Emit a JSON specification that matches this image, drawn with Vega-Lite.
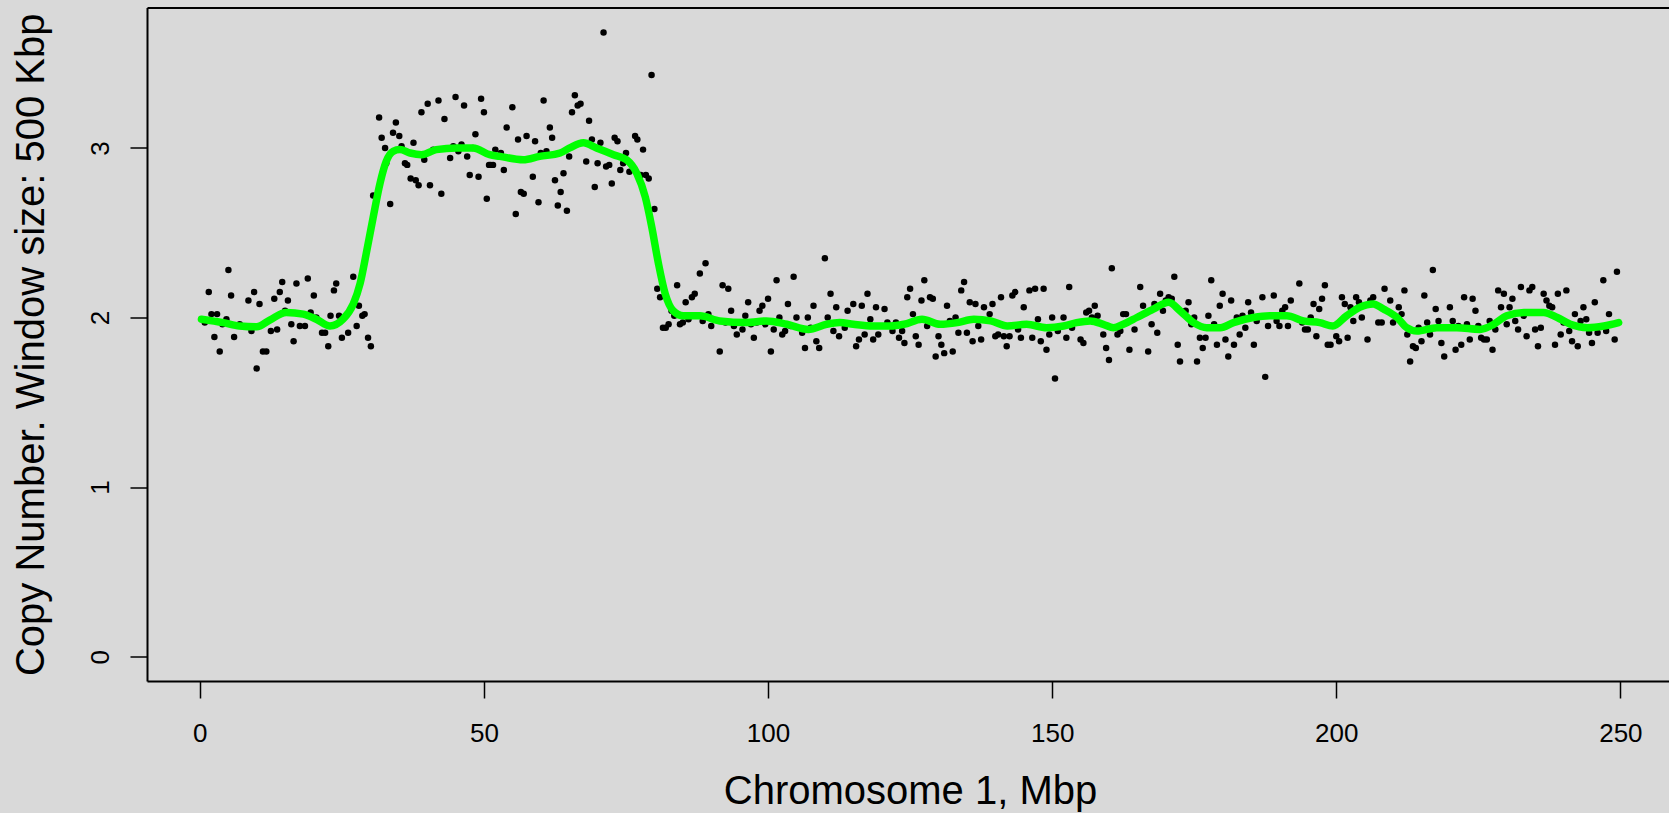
{
"$schema": "https://vega.github.io/schema/vega-lite/v6.json",
"autosize": "none",
"padding": {"left": 147, "top": 7.5, "right": 0, "bottom": 132},
"width": 1522,
"height": 673.5,
"background": "#d9d9d9",
"config": {"view": {"stroke": null}, "font": "Liberation Sans"},
"layer": [
{
"data": {"values": [
{"x":0.87,"y":1.97},{"x":1.57,"y":2.15},{"x":2.04,"y":2.02},{"x":3.03,"y":2.02},{"x":2.56,"y":1.885},{"x":3.5,"y":1.8},{"x":3.97,"y":1.96},{"x":5.03,"y":2.28},{"x":4.68,"y":1.99},{"x":5.5,"y":2.13},
{"x":6.03,"y":1.885},{"x":7.02,"y":1.96},{"x":8.55,"y":2.1},{"x":9.55,"y":2.15},{"x":9.08,"y":1.92},{"x":10.0,"y":1.7},{"x":10.5,"y":2.08},{"x":11.1,"y":1.8},{"x":11.7,"y":1.8},{"x":12.5,"y":1.92},
{"x":13.6,"y":1.93},{"x":13.1,"y":2.11},{"x":14.07,"y":2.15},{"x":14.5,"y":2.21},{"x":15.0,"y":2.04},{"x":15.5,"y":2.1},{"x":16.1,"y":1.96},{"x":16.5,"y":1.86},{"x":17.0,"y":2.2},{"x":17.6,"y":1.95},
{"x":18.5,"y":1.95},{"x":19.0,"y":2.23},{"x":19.5,"y":2.03},{"x":20.06,"y":2.13},{"x":20.5,"y":2.0},{"x":21.5,"y":1.91},{"x":22.05,"y":1.91},{"x":22.6,"y":1.83},{"x":23.0,"y":2.01},{"x":23.6,"y":2.16},
{"x":24.0,"y":2.2},{"x":24.5,"y":2.01},{"x":25.0,"y":1.88},{"x":26.1,"y":1.91},{"x":27.0,"y":2.24},{"x":27.6,"y":1.95},{"x":28.0,"y":2.07},{"x":28.6,"y":2.01},{"x":29.0,"y":2.02},{"x":29.6,"y":1.88},
{"x":30.1,"y":1.83},{"x":30.5,"y":2.72},{"x":31.55,"y":3.18},{"x":32.0,"y":3.06},{"x":32.6,"y":3.0},{"x":32.8,"y":2.91},{"x":33.5,"y":2.67},{"x":34.0,"y":3.09},{"x":34.5,"y":3.15},{"x":35.1,"y":3.07},
{"x":35.5,"y":3.01},{"x":36.1,"y":2.91},{"x":36.5,"y":2.9},{"x":37.1,"y":2.82},{"x":37.6,"y":3.03},{"x":38.0,"y":2.81},{"x":38.5,"y":2.78},{"x":39.0,"y":3.21},{"x":39.5,"y":2.93},{"x":40.1,"y":3.26},
{"x":40.5,"y":2.78},{"x":41.06,"y":2.99},{"x":42.0,"y":3.28},{"x":42.5,"y":2.73},{"x":43.05,"y":3.17},{"x":44.05,"y":2.94},{"x":44.6,"y":3.01},{"x":45.0,"y":3.3},{"x":45.5,"y":2.98},{"x":46.05,"y":3.02},
{"x":46.5,"y":3.25},{"x":47.05,"y":2.95},{"x":47.5,"y":2.84},{"x":48.05,"y":3.0},{"x":48.5,"y":3.08},{"x":49.05,"y":2.83},{"x":49.5,"y":3.29},{"x":50.0,"y":3.21},{"x":50.5,"y":2.7},{"x":50.9,"y":2.9},
{"x":51.2,"y":2.9},{"x":51.6,"y":2.9},{"x":52.0,"y":2.99},{"x":52.98,"y":2.97},{"x":53.5,"y":2.87},{"x":54.0,"y":3.12},{"x":55.0,"y":3.24},{"x":55.6,"y":2.61},{"x":56.0,"y":3.05},{"x":56.5,"y":2.74},
{"x":57.0,"y":2.73},{"x":57.5,"y":3.07},{"x":58.6,"y":2.83},{"x":59.0,"y":3.04},{"x":59.6,"y":2.68},{"x":60.0,"y":2.97},{"x":60.5,"y":3.28},{"x":61.0,"y":2.98},{"x":61.6,"y":3.12},{"x":62.0,"y":3.06},
{"x":62.5,"y":2.81},{"x":63.0,"y":2.66},{"x":63.5,"y":2.74},{"x":64.0,"y":2.85},{"x":64.6,"y":2.63},{"x":65.0,"y":2.95},{"x":65.5,"y":3.21},{"x":66.0,"y":3.31},{"x":66.5,"y":3.25},{"x":67.0,"y":3.26},
{"x":68.0,"y":2.92},{"x":68.5,"y":3.16},{"x":69.0,"y":3.05},{"x":69.5,"y":2.77},{"x":70.0,"y":2.91},{"x":70.5,"y":3.03},{"x":71.05,"y":3.68},{"x":71.5,"y":2.89},{"x":72.05,"y":2.9},{"x":72.5,"y":2.79},
{"x":73.0,"y":3.06},{"x":73.5,"y":3.04},{"x":74.0,"y":2.87},{"x":74.5,"y":2.91},{"x":75.0,"y":2.97},{"x":75.6,"y":2.86},{"x":76.6,"y":3.07},{"x":77.0,"y":3.05},{"x":77.6,"y":2.84},{"x":78.0,"y":2.99},
{"x":78.5,"y":2.84},{"x":79.0,"y":2.82},{"x":79.5,"y":3.43},{"x":80.0,"y":2.64},{"x":80.5,"y":2.17},{"x":81.0,"y":2.12},{"x":81.5,"y":1.94},{"x":82.0,"y":1.94},{"x":82.5,"y":1.96},{"x":83.0,"y":2.04},
{"x":83.5,"y":2.01},{"x":84.0,"y":2.19},{"x":84.5,"y":1.96},{"x":85.0,"y":1.97},{"x":85.5,"y":2.09},{"x":86.0,"y":1.99},{"x":86.6,"y":2.12},{"x":87.1,"y":2.14},{"x":88.0,"y":2.26},{"x":88.5,"y":1.98},
{"x":89.0,"y":2.32},{"x":89.5,"y":2.02},{"x":90.0,"y":1.95},{"x":91.5,"y":1.8},{"x":92.0,"y":2.19},{"x":92.5,"y":1.97},{"x":93.0,"y":2.17},{"x":93.5,"y":2.04},{"x":94.0,"y":1.95},{"x":94.5,"y":1.9},
{"x":95.5,"y":1.93},{"x":96.0,"y":2.01},{"x":96.5,"y":2.09},{"x":97.0,"y":1.96},{"x":97.5,"y":1.88},{"x":98.0,"y":1.97},{"x":98.5,"y":2.04},{"x":99.0,"y":2.07},{"x":99.5,"y":1.96},{"x":100.0,"y":2.11},
{"x":100.5,"y":1.8},{"x":101.0,"y":1.93},{"x":101.5,"y":2.22},{"x":102.0,"y":2.0},{"x":102.5,"y":1.9},{"x":103.0,"y":1.92},{"x":103.5,"y":2.08},{"x":104.0,"y":1.95},{"x":104.5,"y":2.24},{"x":105.0,"y":2.0},
{"x":106.0,"y":1.91},{"x":106.5,"y":1.82},{"x":107.0,"y":2.0},{"x":107.5,"y":1.94},{"x":108.0,"y":2.07},{"x":108.5,"y":1.86},{"x":109.0,"y":1.82},{"x":110.0,"y":2.35},{"x":110.5,"y":2.0},{"x":111.0,"y":2.14},
{"x":111.5,"y":1.92},{"x":112.0,"y":2.06},{"x":112.5,"y":1.89},{"x":113.5,"y":1.94},{"x":114.0,"y":2.04},{"x":115.0,"y":2.08},{"x":115.5,"y":1.83},{"x":116.0,"y":1.87},{"x":116.5,"y":2.07},{"x":117.0,"y":1.9},
{"x":117.5,"y":2.14},{"x":118.0,"y":1.99},{"x":118.5,"y":1.87},{"x":119.0,"y":2.06},{"x":119.4,"y":1.9},
{"x":120.5,"y":2.05},{"x":121.0,"y":1.97},{"x":121.9,"y":1.92},{"x":122.5,"y":1.97},{"x":123.05,"y":1.88},{"x":123.6,"y":1.92},{"x":124.0,"y":1.85},{"x":124.5,"y":2.12},{"x":125.0,"y":2.17},{"x":125.5,"y":2.02},
{"x":126.0,"y":1.89},{"x":126.5,"y":1.84},{"x":127.0,"y":2.1},{"x":127.5,"y":2.22},{"x":128.0,"y":1.95},{"x":128.5,"y":2.12},{"x":129.0,"y":2.11},{"x":129.5,"y":1.77},{"x":130.0,"y":1.89},{"x":130.5,"y":1.84},
{"x":131.0,"y":1.79},{"x":131.5,"y":2.07},{"x":132.0,"y":1.98},{"x":132.5,"y":1.8},{"x":133.0,"y":2.0},{"x":133.5,"y":1.91},{"x":134.0,"y":2.16},{"x":134.5,"y":2.21},{"x":135.0,"y":1.91},{"x":135.5,"y":2.09},
{"x":136.0,"y":1.86},{"x":136.5,"y":2.08},{"x":137.0,"y":1.95},{"x":137.5,"y":1.87},{"x":138.0,"y":2.06},{"x":139.0,"y":2.02},{"x":139.5,"y":2.08},{"x":140.0,"y":1.89},{"x":140.5,"y":1.9},{"x":141.0,"y":2.12},
{"x":141.5,"y":1.89},{"x":142.0,"y":1.83},{"x":142.5,"y":1.89},{"x":143.0,"y":2.13},{"x":143.5,"y":2.15},{"x":144.0,"y":1.93},{"x":144.5,"y":1.88},{"x":145.0,"y":2.06},{"x":146.0,"y":2.16},{"x":146.5,"y":1.88},
{"x":147.0,"y":2.17},{"x":147.5,"y":1.99},{"x":148.0,"y":1.86},{"x":148.5,"y":2.17},{"x":149.0,"y":1.81},{"x":149.5,"y":1.9},{"x":150.0,"y":2.0},{"x":150.5,"y":1.64},{"x":151.0,"y":1.92},{"x":152.0,"y":2.0},
{"x":152.5,"y":1.88},{"x":153.0,"y":2.18},{"x":153.5,"y":1.94},{"x":155.0,"y":1.87},{"x":155.5,"y":1.85},{"x":156.0,"y":2.03},{"x":156.5,"y":2.04},{"x":157.0,"y":2.0},{"x":157.5,"y":2.07},{"x":158.0,"y":2.01},
{"x":159.0,"y":1.9},{"x":159.5,"y":1.82},{"x":160.0,"y":1.75},{"x":160.5,"y":2.29},{"x":161.5,"y":1.9},{"x":162.0,"y":1.92},{"x":162.5,"y":2.02},{"x":163.0,"y":2.02},{"x":163.6,"y":1.81},
{"x":164.5,"y":1.93},{"x":165.5,"y":2.18},{"x":166.0,"y":2.07},{"x":166.9,"y":1.8},{"x":167.5,"y":1.96},{"x":168.0,"y":2.08},{"x":168.5,"y":1.91},{"x":169.0,"y":2.14},{"x":169.5,"y":2.04},{"x":170.0,"y":2.1},
{"x":170.5,"y":2.12},{"x":171.05,"y":2.11},{"x":171.5,"y":2.24},{"x":172.1,"y":1.84},{"x":172.5,"y":1.74},{"x":173.5,"y":2.04},{"x":174.0,"y":2.09},{"x":174.5,"y":1.96},{"x":175.0,"y":2.0},{"x":175.5,"y":1.74},
{"x":176.0,"y":1.88},{"x":176.5,"y":1.82},{"x":177.0,"y":1.88},{"x":177.5,"y":2.01},{"x":178.0,"y":2.22},{"x":178.5,"y":1.96},{"x":179.0,"y":1.84},{"x":179.5,"y":2.07},{"x":180.0,"y":2.14},{"x":180.5,"y":1.87},
{"x":181.0,"y":1.77},{"x":181.5,"y":2.1},{"x":182.0,"y":1.84},{"x":182.5,"y":2.0},{"x":183.0,"y":1.9},{"x":183.5,"y":2.01},{"x":184.0,"y":1.94},{"x":184.5,"y":2.09},{"x":185.0,"y":2.03},{"x":185.5,"y":1.84},
{"x":186.0,"y":1.98},{"x":187.0,"y":2.12},{"x":187.5,"y":1.65},{"x":188.0,"y":1.95},{"x":189.0,"y":2.13},{"x":189.5,"y":1.98},{"x":190.0,"y":1.95},{"x":190.5,"y":2.04},{"x":191.0,"y":2.06},{"x":191.5,"y":1.95},
{"x":192.0,"y":2.1},{"x":193.5,"y":2.2},{"x":194.0,"y":1.97},{"x":194.5,"y":1.93},{"x":195.0,"y":1.93},{"x":195.5,"y":2.0},{"x":196.0,"y":2.08},{"x":196.5,"y":1.89},{"x":197.0,"y":2.05},{"x":197.5,"y":2.11},
{"x":198.0,"y":2.19},{"x":198.5,"y":1.84},{"x":199.0,"y":1.84},{"x":200.0,"y":1.89},{"x":200.5,"y":1.86},{"x":201.0,"y":2.12},{"x":201.5,"y":2.08},{"x":202.0,"y":1.88},{"x":202.5,"y":2.06},{"x":203.0,"y":1.98},
{"x":203.5,"y":2.12},{"x":204.0,"y":2.09},{"x":204.5,"y":2.0},{"x":205.5,"y":1.87},{"x":206.0,"y":2.1},{"x":206.5,"y":2.12},{"x":207.4,"y":1.97},
{"x":208.0,"y":1.97},{"x":208.5,"y":2.17},{"x":209.5,"y":2.1},{"x":210.0,"y":1.97},{"x":211.0,"y":2.06},{"x":211.5,"y":2.02},{"x":212.0,"y":2.16},{"x":212.5,"y":1.9},{"x":213.0,"y":1.74},{"x":213.5,"y":1.83},
{"x":214.0,"y":1.82},{"x":214.5,"y":1.94},{"x":215.0,"y":1.86},{"x":215.5,"y":2.13},{"x":216.0,"y":1.97},{"x":216.5,"y":1.9},{"x":217.0,"y":2.28},{"x":217.5,"y":2.05},{"x":218.0,"y":1.98},{"x":218.5,"y":1.85},
{"x":219.0,"y":1.77},{"x":219.5,"y":1.94},{"x":220.0,"y":2.06},{"x":220.5,"y":1.98},{"x":221.0,"y":1.81},{"x":221.5,"y":1.95},{"x":222.0,"y":1.84},{"x":222.5,"y":2.12},{"x":223.0,"y":1.96},{"x":223.5,"y":1.87},
{"x":224.0,"y":2.11},{"x":224.5,"y":2.04},{"x":225.0,"y":1.95},{"x":225.5,"y":1.88},{"x":226.0,"y":1.87},{"x":226.5,"y":1.87},{"x":227.0,"y":1.98},{"x":227.5,"y":1.81},{"x":228.0,"y":1.93},{"x":228.5,"y":2.16},
{"x":229.0,"y":2.06},{"x":229.5,"y":2.14},{"x":230.0,"y":1.96},{"x":230.5,"y":2.06},{"x":231.0,"y":2.11},{"x":231.5,"y":1.98},{"x":232.0,"y":1.93},{"x":232.5,"y":2.18},{"x":233.0,"y":2.01},{"x":233.5,"y":1.89},
{"x":234.0,"y":2.16},{"x":234.5,"y":2.18},{"x":235.0,"y":1.93},{"x":235.5,"y":1.83},{"x":236.0,"y":1.94},{"x":236.5,"y":2.14},{"x":237.0,"y":2.1},{"x":237.5,"y":2.07},{"x":238.0,"y":2.06},{"x":238.5,"y":1.84},
{"x":239.0,"y":2.14},{"x":239.5,"y":1.9},{"x":240.0,"y":1.97},{"x":240.5,"y":2.16},{"x":241.0,"y":1.92},{"x":241.5,"y":1.86},{"x":242.0,"y":2.02},{"x":242.5,"y":1.83},{"x":243.0,"y":1.98},{"x":243.5,"y":2.06},
{"x":244.0,"y":1.99},{"x":244.5,"y":1.91},{"x":245.0,"y":1.85},{"x":245.5,"y":2.09},{"x":246.0,"y":1.91},{"x":247.0,"y":2.22},{"x":247.5,"y":1.92},{"x":248.0,"y":2.02},{"x":249.0,"y":1.87},{"x":249.4,"y":2.27}
]},
"mark": {"type": "point", "filled": true, "shape": "circle", "size": 42, "color": "#000000", "opacity": 1},
"encoding": {
"x": {"field": "x", "type": "quantitative", "scale": {"domain": [-9.3, 258.56], "nice": false, "zero": false},
"axis": {"orient": "bottom", "values": [0, 50, 100, 150, 200, 250], "grid": false, "domain": true, "domainColor": "#000000", "domainWidth": 2, "ticks": true, "tickSize": 17, "tickColor": "#000000", "tickWidth": 1.5, "labelFont": "Liberation Sans", "labelFontSize": 26, "labelColor": "#000000", "labelPadding": 22, "labelBaseline": "top", "labelFlush": false, "labelOverlap": false, "title": "Chromosome 1, Mbp", "titleFont": "Liberation Sans", "titleFontSize": 40, "titleFontWeight": "normal", "titleColor": "#000000", "titleBaseline": "alphabetic", "titleAlign": "center", "titleY": 122, "titleX": 763}},
"y": {"field": "y", "type": "quantitative", "scale": {"domain": [-0.1433, 3.828], "nice": false, "zero": false},
"axis": {"orient": "left", "values": [0, 1, 2, 3], "grid": false, "domain": true, "domainColor": "#000000", "domainWidth": 2, "ticks": true, "tickSize": 17, "tickColor": "#000000", "tickWidth": 1.5, "labelFont": "Liberation Sans", "labelFontSize": 26, "labelColor": "#000000", "labelAngle": 270, "labelAlign": "center", "labelBaseline": "alphabetic", "labelPadding": 22, "labelFlush": false, "labelOverlap": false, "title": "Copy Number. Window size: 500 Kbp", "titleFont": "Liberation Sans", "titleFontSize": 40, "titleFontWeight": "normal", "titleColor": "#000000", "titleAngle": 270, "titleBaseline": "alphabetic", "titleAlign": "center", "titleX": -104, "titleY": 336.75}}
}
},
{
"data": {"values": [
{"x":0.28,"y":1.99},{"x":4.1,"y":1.97},{"x":7.0,"y":1.95},{"x":10.0,"y":1.945},{"x":12.3,"y":1.985},{"x":15.2,"y":2.03},{"x":18.2,"y":2.02},{"x":20.5,"y":1.99},{"x":22.9,"y":1.95},{"x":25.2,"y":1.99},
{"x":27.0,"y":2.08},{"x":28.2,"y":2.2},{"x":29.3,"y":2.38},{"x":30.5,"y":2.59},{"x":31.7,"y":2.79},{"x":32.8,"y":2.92},{"x":34.0,"y":2.98},{"x":35.2,"y":2.99},{"x":37.0,"y":2.97},{"x":39.0,"y":2.96},
{"x":41.6,"y":2.99},{"x":45.2,"y":3.0},{"x":48.1,"y":3.0},{"x":51.0,"y":2.96},{"x":52.8,"y":2.95},{"x":56.9,"y":2.93},{"x":59.8,"y":2.95},{"x":63.4,"y":2.97},{"x":65.1,"y":3.0},{"x":67.5,"y":3.03},
{"x":69.8,"y":3.0},{"x":72.8,"y":2.96},{"x":75.1,"y":2.93},{"x":76.9,"y":2.85},{"x":78.4,"y":2.71},{"x":79.5,"y":2.54},{"x":80.7,"y":2.32},{"x":81.9,"y":2.14},{"x":83.3,"y":2.04},{"x":85.1,"y":2.01},
{"x":88.0,"y":2.01},{"x":91.5,"y":1.98},{"x":96.2,"y":1.97},{"x":99.7,"y":1.98},{"x":103.3,"y":1.96},{"x":107.1,"y":1.93},{"x":110.3,"y":1.96},{"x":112.6,"y":1.97},{"x":115.0,"y":1.96},{"x":118.5,"y":1.95},
{"x":121.5,"y":1.95},{"x":123.9,"y":1.96},{"x":127.1,"y":1.99},{"x":130.3,"y":1.96},{"x":133.3,"y":1.97},{"x":136.2,"y":1.99},{"x":139.2,"y":1.98},{"x":142.1,"y":1.95},{"x":145.5,"y":1.96},{"x":149.0,"y":1.94},
{"x":152.0,"y":1.95},{"x":154.3,"y":1.97},{"x":156.7,"y":1.98},{"x":159.0,"y":1.96},{"x":160.8,"y":1.94},{"x":162.5,"y":1.96},{"x":164.9,"y":2.0},{"x":167.8,"y":2.05},{"x":170.5,"y":2.09},{"x":172.5,"y":2.04},
{"x":174.9,"y":1.97},{"x":177.2,"y":1.94},{"x":179.6,"y":1.94},{"x":181.9,"y":1.97},{"x":185.4,"y":2.0},{"x":188.3,"y":2.01},{"x":191.3,"y":2.01},{"x":194.2,"y":1.98},{"x":197.1,"y":1.97},{"x":199.4,"y":1.95},
{"x":201.8,"y":2.01},{"x":204.1,"y":2.06},{"x":206.5,"y":2.08},{"x":208.3,"y":2.05},{"x":210.7,"y":2.0},{"x":212.4,"y":1.94},{"x":214.2,"y":1.92},{"x":217.7,"y":1.94},{"x":221.2,"y":1.94},{"x":225.3,"y":1.93},
{"x":227.7,"y":1.96},{"x":230.0,"y":2.01},{"x":233.0,"y":2.03},{"x":236.5,"y":2.03},{"x":238.9,"y":2.0},{"x":241.2,"y":1.96},{"x":244.2,"y":1.94},{"x":247.1,"y":1.95},{"x":249.7,"y":1.97}
]},
"mark": {"type": "line", "color": "#00ff00", "strokeWidth": 7.5, "interpolate": "monotone", "strokeCap": "round", "strokeJoin": "round"},
"encoding": {
"x": {"field": "x", "type": "quantitative", "axis": {"orient": "top", "labels": false, "ticks": false, "grid": false, "title": null, "domain": true, "domainColor": "#000000", "domainWidth": 2}},
"y": {"field": "y", "type": "quantitative", "axis": null}
}
}
],
"resolve": {"axis": {"x": "independent", "y": "independent"}}
}
